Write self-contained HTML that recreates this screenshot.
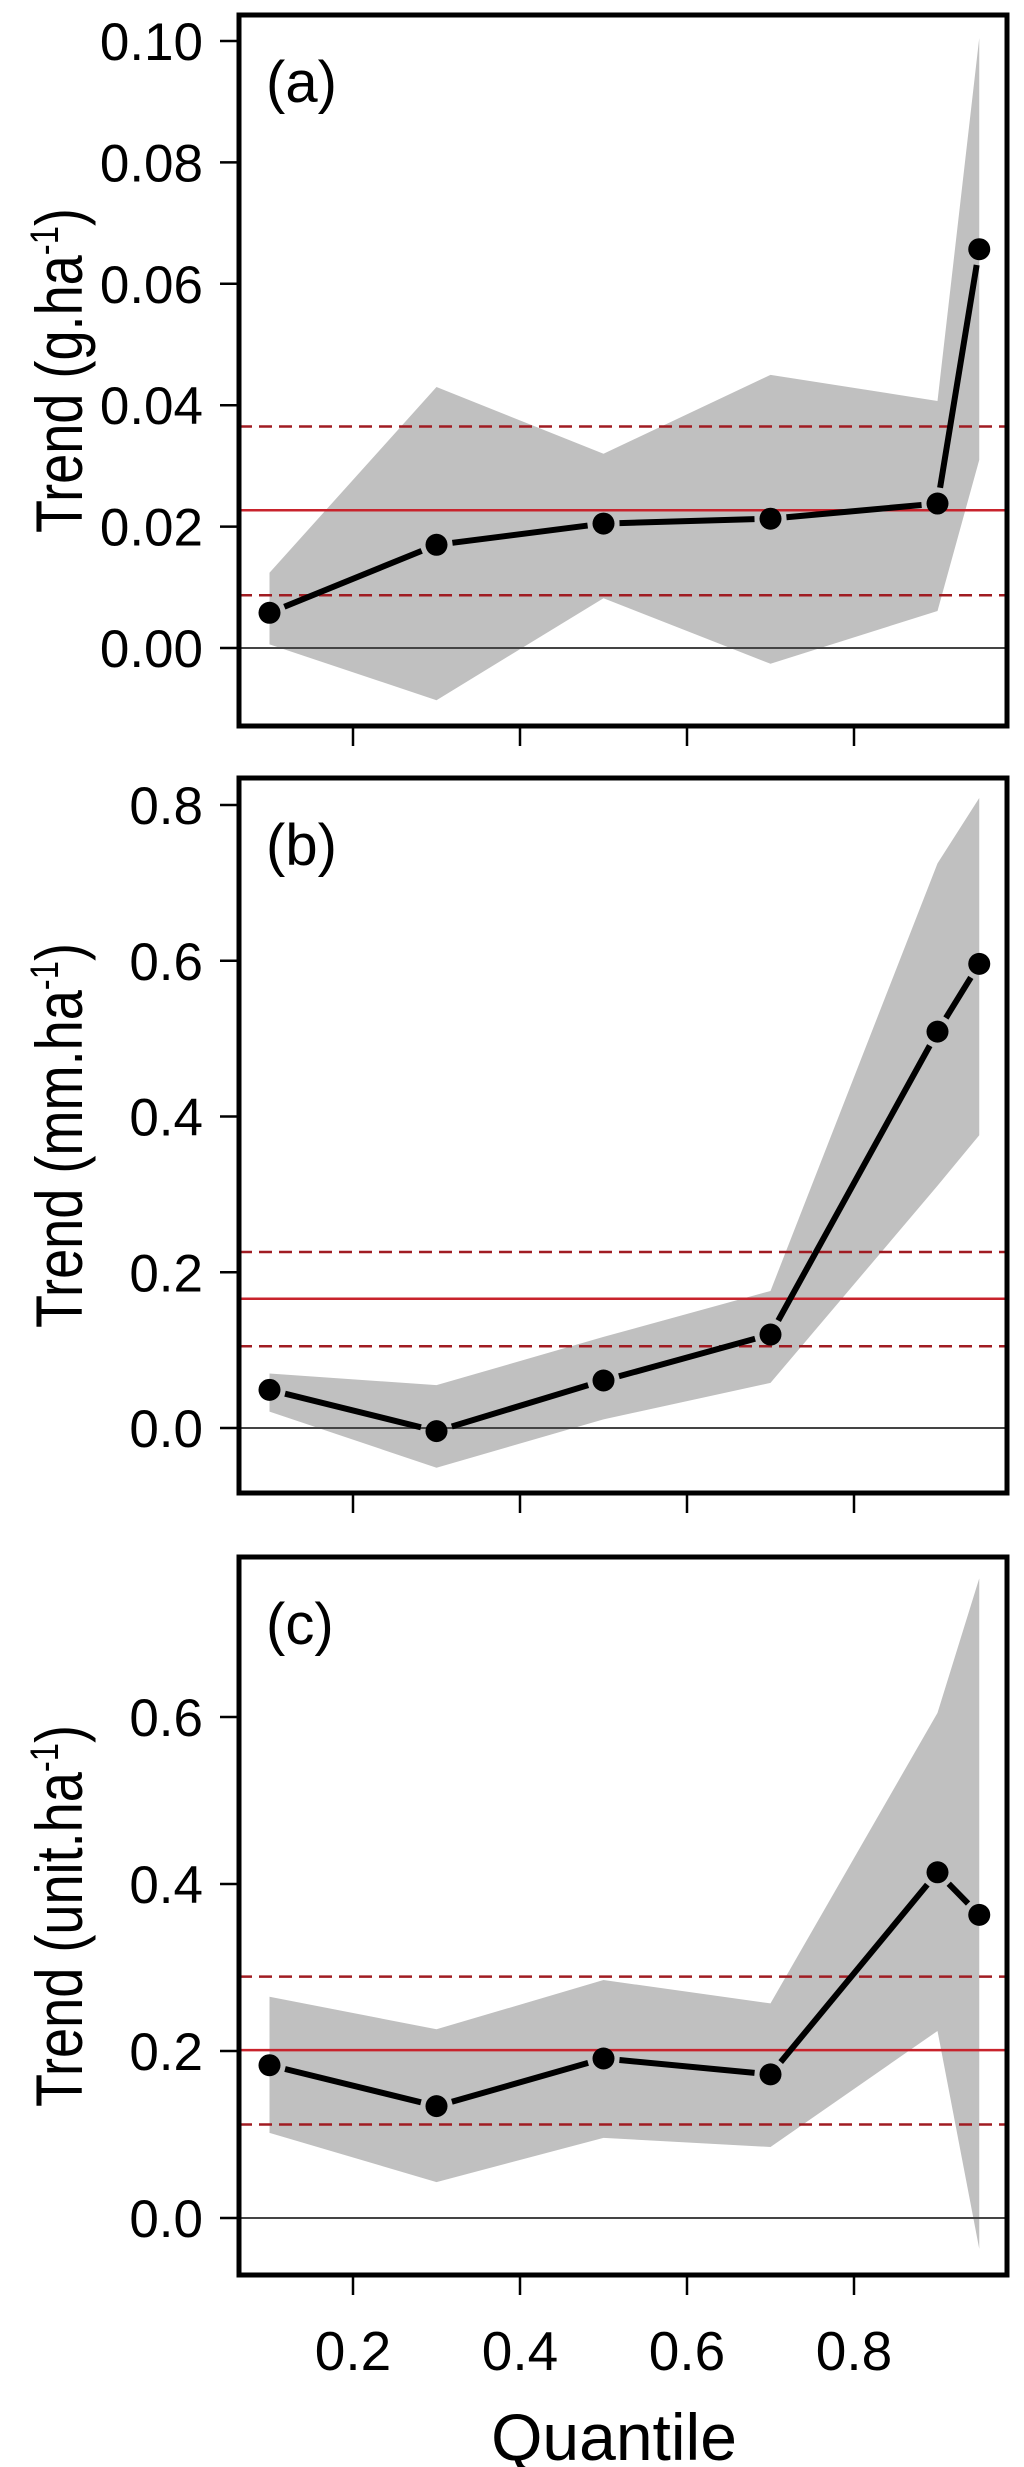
<!DOCTYPE html>
<html><head><meta charset="utf-8"><style>
html,body{margin:0;padding:0;background:#fff;}
svg{display:block;font-family:"Liberation Sans",Arial,sans-serif;}
</style></head><body>
<svg id="fig" width="1024" height="2467" viewBox="0 0 1024 2467" xmlns="http://www.w3.org/2000/svg"></svg>
<script>
const quantiles = [0.1, 0.3, 0.5, 0.7, 0.9, 0.95];
const xTicks = [0.2, 0.4, 0.6, 0.8];
const xTickLabels = ["0.2", "0.4", "0.6", "0.8"];

const aTrend = [0.0058, 0.017, 0.0205, 0.0213, 0.0238, 0.0657];
const aUpper = [0.0124, 0.043, 0.032, 0.045, 0.0407, 0.1005];
const aLower = [0.0006, -0.0086, 0.0082, -0.0026, 0.0061, 0.031];
const aRef = [0.0227, 0.0365, 0.0087];
const aTicks = [0, 0.02, 0.04, 0.06, 0.08, 0.10];
const aTickLabels = ["0.00", "0.02", "0.04", "0.06", "0.08", "0.10"];

const bTrend = [0.049, -0.004, 0.061, 0.120, 0.509, 0.596];
const bUpper = [0.070, 0.055, 0.117, 0.176, 0.725, 0.809];
const bLower = [0.021, -0.051, 0.011, 0.058, 0.311, 0.376];
const bRef = [0.166, 0.226, 0.105];
const bTicks = [0, 0.2, 0.4, 0.6, 0.8];
const bTickLabels = ["0.0", "0.2", "0.4", "0.6", "0.8"];

const cTrend = [0.183, 0.134, 0.191, 0.172, 0.414, 0.363];
const cUpper = [0.265, 0.226, 0.285, 0.257, 0.605, 0.766];
const cLower = [0.102, 0.043, 0.096, 0.085, 0.224, -0.037];
const cRef = [0.201, 0.289, 0.112];
const cTicks = [0, 0.2, 0.4, 0.6];
const cTickLabels = ["0.0", "0.2", "0.4", "0.6"];

const NS = "http://www.w3.org/2000/svg";
const svg = document.getElementById("fig");
const L = 239, R = 1007;
function xs(q){ return 186 + q * 835; }
function mk(tag, attrs, parent){
  const e = document.createElementNS(NS, tag);
  for (const k in attrs) e.setAttribute(k, attrs[k]);
  (parent || svg).appendChild(e);
  return e;
}

function panel(id, top, bottom, y0, yRefVal, yRefPx, trend, upper, lower, ref, ticks, tickLabels, letter, unit, showX){
  const ys = v => y0 - v * (y0 - yRefPx) / yRefVal;
  const g = mk("g", {});
  
  
  let pts = quantiles.map((q,i)=>xs(q)+","+ys(upper[i]));
  pts = pts.concat(quantiles.slice().reverse().map((q,j)=>{const i=quantiles.length-1-j;return xs(q)+","+ys(lower[i]);}));
  const band = mk("polygon", {points: pts.join(" "), fill: "#c0c0c0"}, g);
  
  
  const z = mk("line", {x1: L, x2: R, y1: ys(0), y2: ys(0), stroke: "#444", "stroke-width": 2}, g);
  
  
  const rm = mk("line", {x1: L, x2: R, y1: ys(ref[0]), y2: ys(ref[0]), stroke: "#c8232c", "stroke-width": 2.5}, g);
  
  
  for (let k = 1; k < 3; k++){
    const rd = mk("line", {x1: L, x2: R, y1: ys(ref[k]), y2: ys(ref[k]), stroke: "#a01c22", "stroke-width": 2.5, "stroke-dasharray": "13 7"}, g);
    
    
  }
  for (let i = 0; i < quantiles.length - 1; i++){
    const x1 = xs(quantiles[i]), y1 = ys(trend[i]), x2 = xs(quantiles[i+1]), y2 = ys(trend[i+1]);
    const d = Math.hypot(x2-x1, y2-y1), gap = 16;
    if (d <= 2*gap) continue;
    const ux = (x2-x1)/d, uy = (y2-y1)/d;
    const s = mk("line", {x1: x1+ux*gap, y1: y1+uy*gap, x2: x2-ux*gap, y2: y2-uy*gap, stroke: "#000", "stroke-width": 6}, g);
    
    
  }
  quantiles.forEach((q,i)=>{
    const c = mk("circle", {cx: xs(q), cy: ys(trend[i]), r: 11, fill: "#000"}, g);
    
    
  });
  const box = mk("rect", {x: L, y: top, width: R-L, height: bottom-top, fill: "none", stroke: "#000", "stroke-width": 5}, g);
  
  
  ticks.forEach((v,i)=>{
    const t = mk("line", {x1: 220, x2: L, y1: ys(v), y2: ys(v), stroke: "#000", "stroke-width": 2.5}, g);
    
    
    const tl = mk("text", {x: 203, y: ys(v) + 19, "text-anchor": "end", "font-size": 53, fill: "#000"}, g);
    tl.textContent = tickLabels[i];
    
    
  });
  xTicks.forEach((q,i)=>{
    const t = mk("line", {x1: xs(q), x2: xs(q), y1: bottom, y2: bottom + 20, stroke: "#000", "stroke-width": 2.5}, g);
    
    
    if (showX){
      const tl = mk("text", {x: xs(q), y: bottom + 95, "text-anchor": "middle", "font-size": 55, fill: "#000"}, g);
      tl.textContent = xTickLabels[i];
      
      
    }
  });
  const pl = mk("text", {x: 266, y: top + 87, "font-size": 58, fill: "#000"}, g);
  pl.textContent = "(" + letter + ")";
  
  
  const cy = (top + bottom) / 2;
  const yt = mk("text", {x: 0, y: 0, transform: "translate(82," + cy + ") rotate(-90) scale(0.82,1)", "text-anchor": "middle", "font-size": 66, fill: "#000"}, g);
  
  
  const t1 = mk("tspan", {}, yt); t1.textContent = "Trend (" + unit + ".ha";
  const t2 = mk("tspan", {dy: -24, "font-size": 40}, yt); t2.textContent = "-1";
  const t3 = mk("tspan", {dy: 24}, yt); t3.textContent = ")";
}

panel("a", 15, 726, 648, 0.10, 41, aTrend, aUpper, aLower, aRef, aTicks, aTickLabels, "a", "g", false);
panel("b", 778, 1493, 1428, 0.8, 805, bTrend, bUpper, bLower, bRef, bTicks, bTickLabels, "b", "mm", false);
panel("c", 1557, 2275, 2218, 0.6, 1717, cTrend, cUpper, cLower, cRef, cTicks, cTickLabels, "c", "unit", true);

const xt = mk("text", {x: 614, y: 2460, "text-anchor": "middle", "font-size": 66, fill: "#000"});
xt.textContent = "Quantile";


</script>
</body></html>
